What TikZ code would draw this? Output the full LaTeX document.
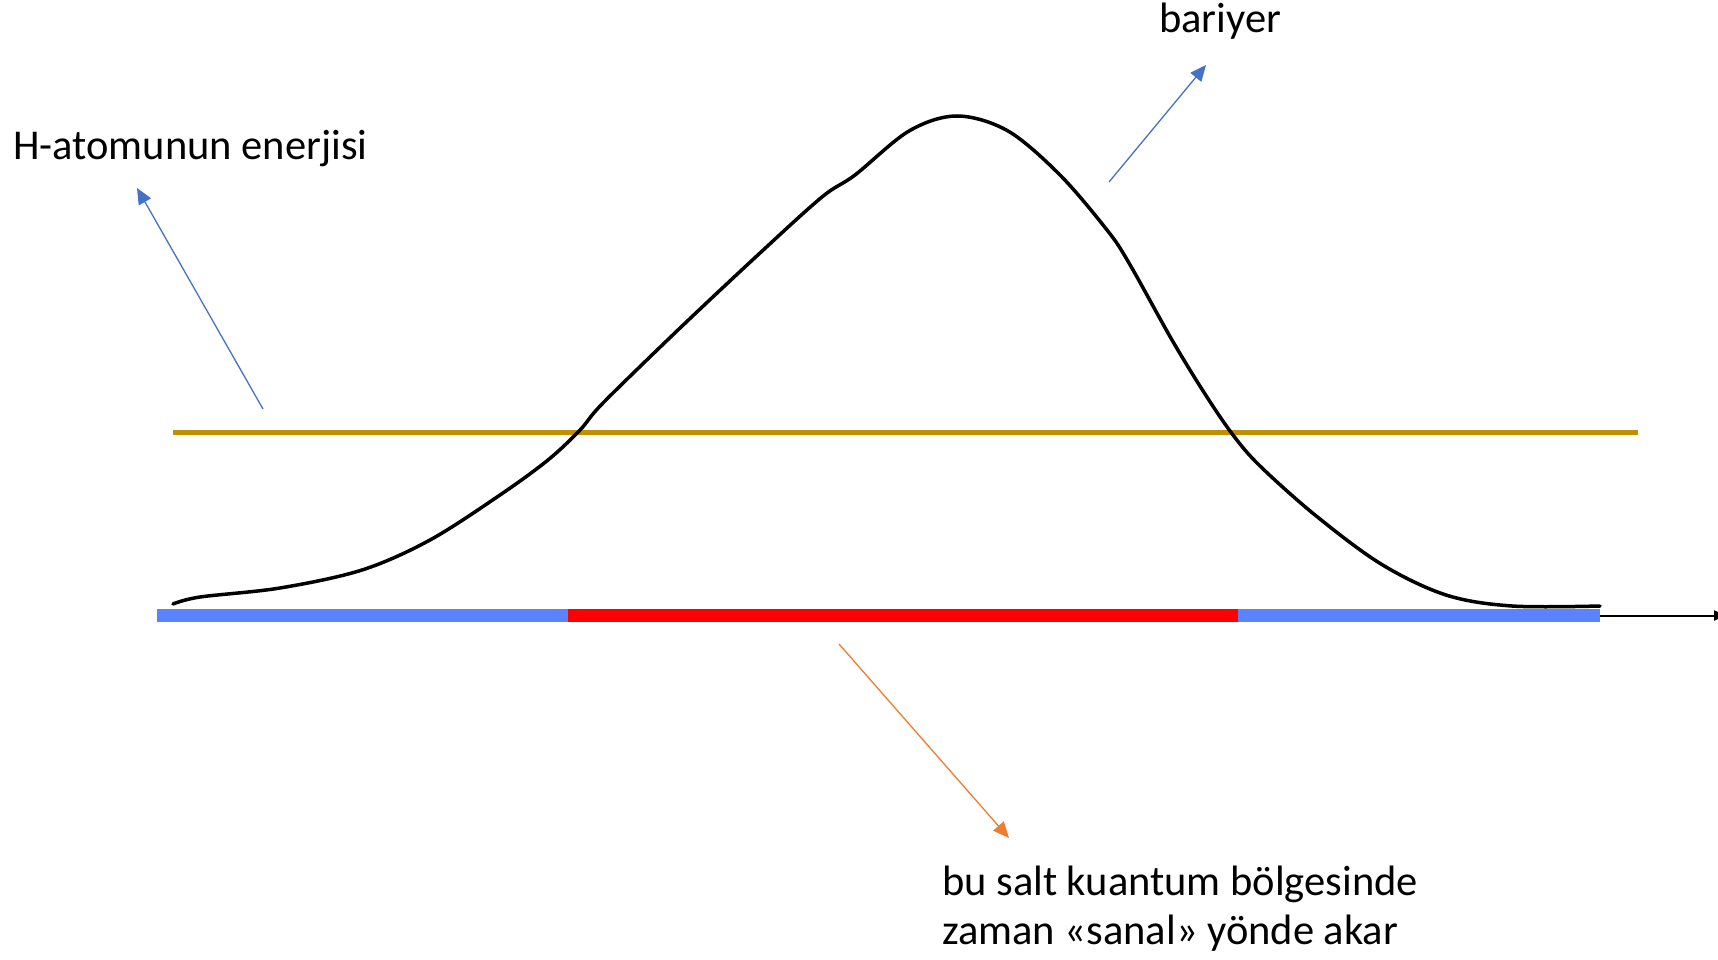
\documentclass[tikz,border=0pt]{standalone}
\usepackage{fontspec}
\setmainfont{Carlito}
\usetikzlibrary{arrows.meta}
\definecolor{gold}{RGB}{191,144,0}
\definecolor{barblue}{RGB}{90,132,255}
\definecolor{arrblue}{RGB}{68,114,196}
\definecolor{arrorange}{RGB}{237,125,49}
\tikzset{
  lbl/.style={font=\fontsize{42.5}{49}\selectfont, inner sep=0pt, anchor=base west, align=left},
  bluearr/.style={draw=arrblue, line width=1.3pt, -{Triangle[length=16pt,width=14pt]}},
  orangearr/.style={draw=arrorange, line width=1.3pt, -{Triangle[length=16pt,width=14pt]}},
}
\begin{document}
\begin{tikzpicture}[x=1pt,y=-1pt]
\useasboundingbox (0,0) rectangle (1718,960);
% coordinates
\coordinate (barA) at (157,615.5);
\coordinate (barB) at (568,615.5);
\coordinate (barC) at (1238,615.5);
\coordinate (barD) at (1600,615.5);
\coordinate (axEnd) at (1726,615.5);
\coordinate (goldA) at (173,432);
\coordinate (goldB) at (1638,432);
% bar
\draw[barblue, line width=13pt] (barA) -- (barB);
\draw[red, line width=13pt] (barB) -- (barC);
\draw[barblue, line width=13pt] (barC) -- (barD);
\draw[black, line width=2pt, -{Triangle[length=12pt,width=10pt]}] (barD) -- (axEnd);
% gold energy line
\draw[gold, line width=5pt] (goldA) -- (goldB);
% barrier curve
\draw[black, line width=3.5pt, line cap=round] plot[smooth, tension=0.55] coordinates {
 (173,604) (200,597) (280,588) (362,570) (430,540) (500,495) (548,460) (580,430) (603,403)
 (679,329) (760,253) (822,197) (855,175) (909,131) (957,116) (1008,131) (1060,175) (1107,230)
 (1129,263) (1172,340) (1205,394) (1233,435) (1260,466) (1315,515) (1381,564) (1446,595)
 (1512,606) (1600,606)};
% labels
\node[lbl] (hlab) at (13,160) {H-atomunun enerjisi};
\node[lbl] (blab) at (1159,33) {bariyer};
\node[lbl] (qlab) at (942,944) {bu salt kuantum bölgesinde\\zaman «sanal» yönde akar};
% arrows
\coordinate (hS) at (263,409);
\coordinate (hT) at (137,188);
\coordinate (bS) at (1109,182);
\coordinate (bT) at (1206,65);
\coordinate (oS) at (839,644);
\coordinate (oT) at (1009,838);
\draw[bluearr] (hS) -- (hT);
\draw[bluearr] (bS) -- (bT);
\draw[orangearr] (oS) -- (oT);
\end{tikzpicture}
\end{document}
